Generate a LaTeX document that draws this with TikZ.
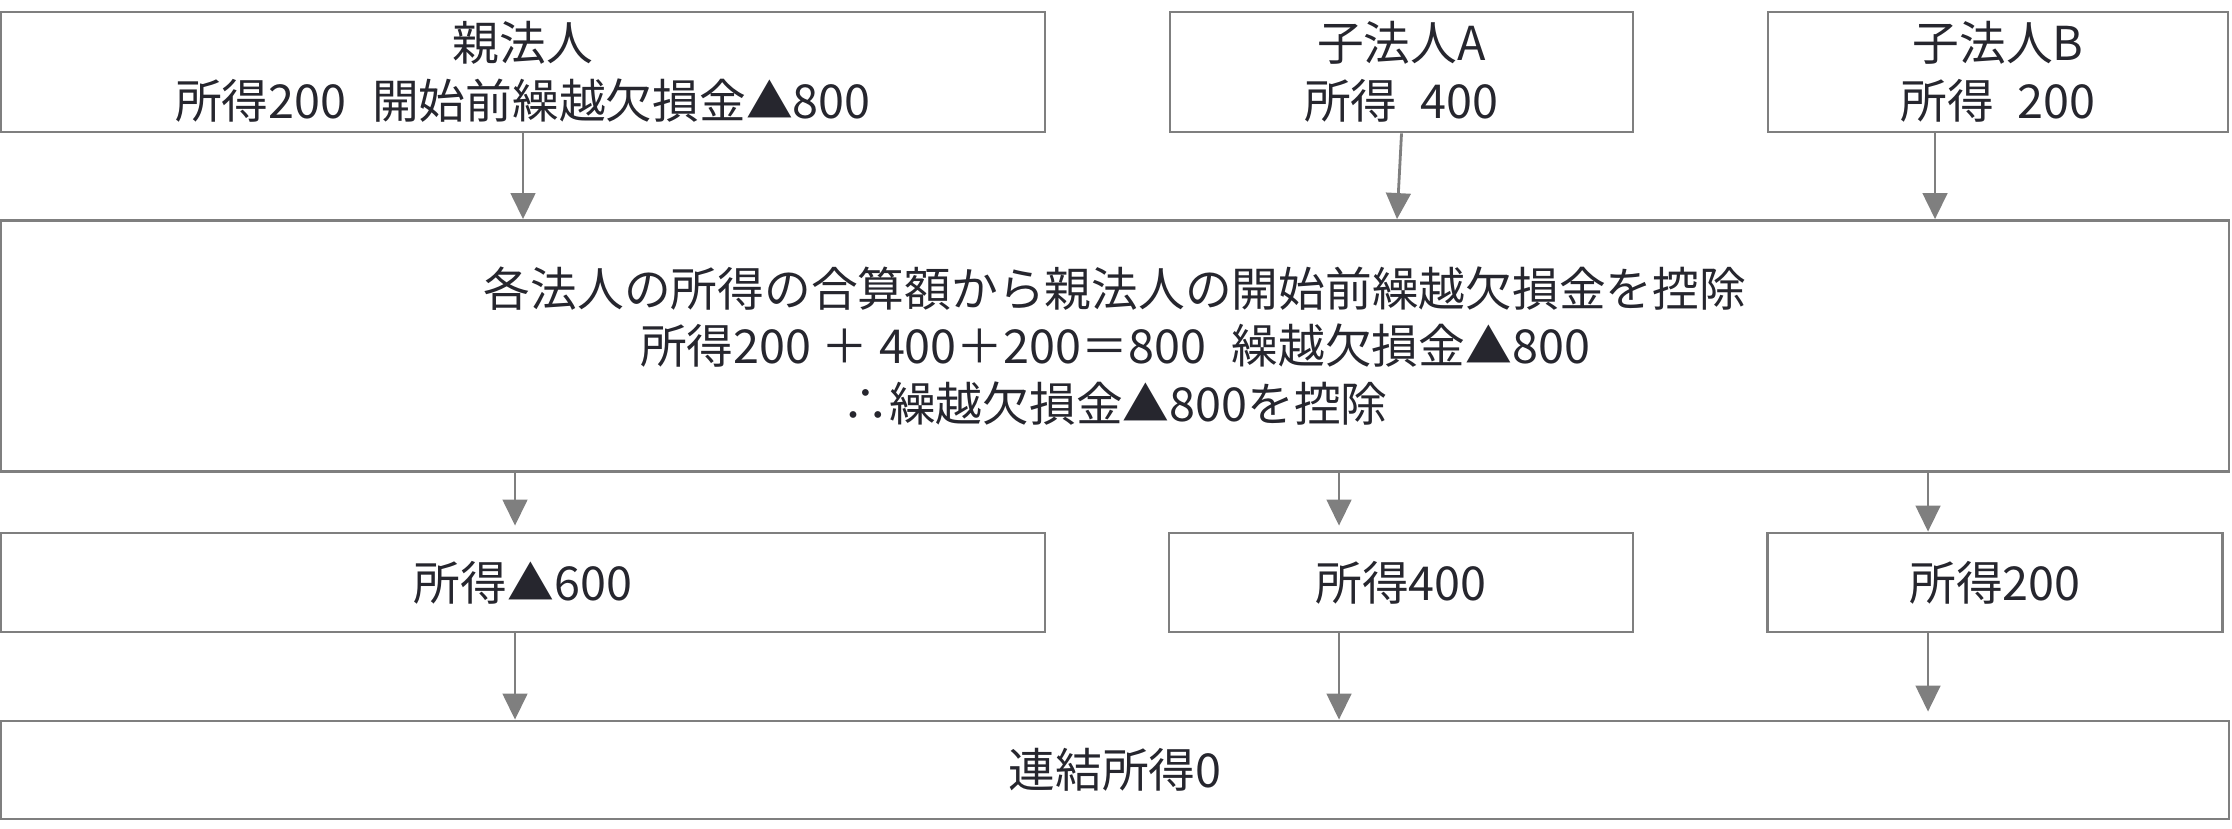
\documentclass[tikz,border=0pt]{standalone}
\usepackage{fontspec}
\setmainfont{Noto Sans CJK JP}
\usepackage[x11names, svgnames]{xcolor}
\usetikzlibrary{arrows.meta, calc}
\definecolor{linegray}{HTML}{7F7F7F}
\definecolor{textdark}{HTML}{26262E}

\begin{document}
\begin{tikzpicture}[
  box/.style={draw=linegray, line width=0.8pt, fill=white, text=textdark, align=center, inner sep=0pt, font=\fontsize{13.3}{16.4}\selectfont},
  arr/.style={-{Triangle[length=7.4pt, width=7pt]}, line width=0.8pt, linegray}]
  \useasboundingbox (0,0) rectangle (22.32,8.28);

  % companies
  \node[box, minimum width=10.44cm, minimum height=1.2cm] (parent) at (5.23,7.56) {親法人\\所得200\hspace{0.55em}開始前繰越欠損金▲800};
  \node[box, minimum width=4.63cm, minimum height=1.2cm] (subA) at (14.015,7.56) {子法人A\\所得\hspace{0.5em}400};
  \node[box, minimum width=4.60cm, minimum height=1.2cm] (subB) at (19.98,7.56) {子法人B\\所得\hspace{0.5em}200};

  % offset of the loss
  \node[box, minimum width=22.28cm, minimum height=2.51cm] (calc) at (11.15,4.82) {各法人の所得の合算額から親法人の開始前繰越欠損金を控除\\所得200 ＋ 400＋200＝800\hspace{0.55em}繰越欠損金▲800\\∴繰越欠損金▲800を控除};

  % income after offset
  \node[box, minimum width=10.44cm, minimum height=0.99cm] (incP) at (5.23,2.455) {所得▲600};
  \node[box, minimum width=4.64cm, minimum height=0.99cm] (incA) at (14.01,2.455) {所得400};
  \node[box, minimum width=4.55cm, minimum height=0.99cm] (incB) at (19.95,2.455) {所得200};

  \node[box, minimum width=22.28cm, minimum height=0.98cm] (total) at (11.15,0.58) {連結所得0};

  \coordinate (topA) at (13.97,0);
  \coordinate (topB) at (19.35,0);
  \coordinate (colP) at (5.15,0);
  \coordinate (colA) at (13.39,0);
  \coordinate (colB) at (19.28,0);

  \draw[arr] (parent.south) -- (parent.south |- calc.north);
  \draw[arr] (subA.south) -- (topA |- calc.north);
  \draw[arr] (subB.south -| topB) -- (topB |- calc.north);

  \draw[arr, shorten >=0.06cm] (calc.south -| colP) -- (incP.north -| colP);
  \draw[arr, shorten >=0.06cm] (calc.south -| colA) -- (incA.north -| colA);
  \draw[arr] (calc.south -| colB) -- (incB.north -| colB);

  \draw[arr] (incP.south -| colP) -- (total.north -| colP);
  \draw[arr] (incA.south -| colA) -- (total.north -| colA);
  \draw[arr, shorten >=0.08cm] (incB.south -| colB) -- (total.north -| colB);
\end{tikzpicture}
\end{document}
